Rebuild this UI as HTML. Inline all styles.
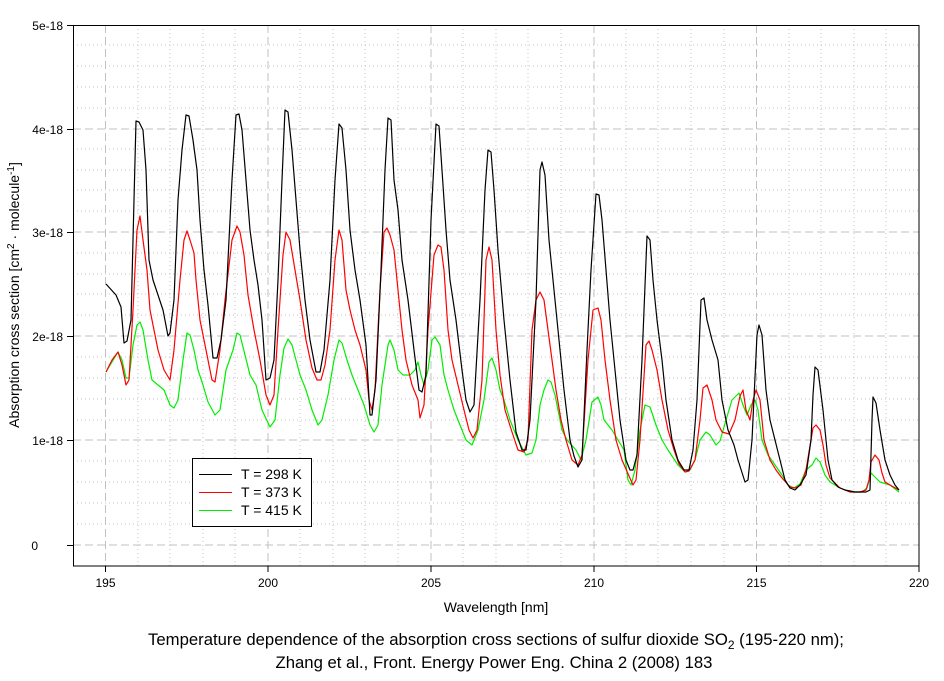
<!DOCTYPE html>
<html><head><meta charset="utf-8"><style>
body{margin:0;background:#fff;}
svg text{font-family:"Liberation Sans",Arial,sans-serif;}
</style></head><body>
<svg width="944" height="676" viewBox="0 0 944 676" xmlns="http://www.w3.org/2000/svg">
<rect width="944" height="676" fill="#fff"/>
<g stroke="#c4c4c4" stroke-width="1" stroke-dasharray="1,3">
<path d="M138 25V566M170 25V566M203 25V566M235 25V566M300 25V566M333 25V566M365 25V566M398 25V566M463 25V566M496 25V566M528 25V566M561 25V566M626 25V566M658 25V566M691 25V566M724 25V566M789 25V566M821 25V566M854 25V566M886 25V566"/>
<path d="M73 524H919M73 503H919M73 482H919M73 461H919M73 420H919M73 399H919M73 378H919M73 357H919M73 315H919M73 294H919M73 274H919M73 253H919M73 211H919M73 190H919M73 170H919M73 149H919M73 108H919M73 87H919M73 66H919M73 45H919"/>
</g>
<g stroke="#c0c0c0" stroke-width="1" stroke-dasharray="8,4">
<path d="M105.5 25V566M268 25V566M431 25V566M594 25V566M756.5 25V566"/>
<path d="M73 545H919M73 440H919M73 336H919M73 232H919M73 129H919"/>
</g>
<rect x="73.5" y="25.5" width="845.5" height="540.5" fill="none" stroke="#000" stroke-width="1"/>
<g stroke="#000"><path d="M67 25.5H73M67 129.5H73M67 232.5H73M67 336.5H73M67 440.5H73M67 545.5H73M105.5 566V572M268 566V572M431 566V572M594 566V572M756.5 566V572M919 566V572"/></g>
<g font-size="12" fill="#000" text-anchor="end">
<text x="63" y="30">5e-18</text><text x="63" y="134">4e-18</text><text x="63" y="237">3e-18</text><text x="63" y="341">2e-18</text><text x="63" y="445">1e-18</text><text x="38" y="550">0</text>
</g>
<g font-size="12" fill="#000" text-anchor="middle">
<text x="105.5" y="587">195</text><text x="268" y="587">200</text><text x="431" y="587">205</text><text x="594" y="587">210</text><text x="756.5" y="587">215</text><text x="919" y="587">220</text>
</g>
<g font-size="14" fill="#000" text-anchor="middle">
<text x="496" y="612">Wavelength [nm]</text>
<text transform="translate(19,295) rotate(-90)">Absorption cross section [cm<tspan dy="-5" font-size="10">2</tspan><tspan dy="5"> · molecule</tspan><tspan dy="-5" font-size="10">-1</tspan><tspan dy="5">]</tspan></text>
</g>
<g font-size="16.7" fill="#000" text-anchor="middle">
<text x="496" y="645">Temperature dependence of the absorption cross sections of sulfur dioxide SO<tspan dy="4" font-size="12">2</tspan><tspan dy="-4"> (195-220 nm);</tspan></text>
<text x="494" y="668">Zhang et al., Front. Energy Power Eng. China 2 (2008) 183</text>
</g>
<g fill="none" stroke-width="1.2" stroke-linejoin="round">
<polyline stroke="#00ee00" points="106,372 112,362 118,352 122,360 126,378 129,378 133,345 137,325 140,322 143,330 148,360 152,380 158,385 164,390 170,405 174,408 178,400 183,360 187,333 190,335 194,350 198,370 203,385 208,402 215,415 220,410 226,370 233,350 237,333 240,335 245,355 250,375 256,385 262,410 270,427 275,420 280,375 284,348 288,339 292,345 296,360 300,375 306,390 312,410 318,425 322,420 328,395 334,360 339,340 342,343 347,360 352,375 358,390 364,405 370,425 374,432 378,425 382,385 388,345 390,340 394,350 398,370 403,375 410,375 415,370 418,362 421,375 424,385 428,370 432,340 435,337 440,345 444,375 448,390 454,410 460,425 466,440 472,445 478,430 484,400 489,362 492,358 496,370 500,390 504,400 510,420 518,440 526,455 532,453 536,440 540,405 544,390 548,380 551,382 555,395 558,410 562,430 567,440 576,450 581,460 586,440 592,402 598,397 601,405 604,420 608,425 612,430 618,440 624,450 628,480 631,485 635,470 640,430 645,405 650,407 656,425 662,440 668,450 678,465 685,472 690,470 695,460 700,440 706,432 710,435 716,445 720,441 726,420 732,400 739,393 743,405 747,415 751,405 755,400 758,410 762,440 768,455 775,465 782,475 788,485 794,488 800,484 806,470 812,465 816,458 820,462 825,475 830,482 840,488 850,492 862,492 867,488 871,473 875,477 880,482 890,485 899,492"/>
<polyline stroke="#ff0000" points="106,372 112,360 118,352 122,365 126,385 129,380 133,310 137,230 140,216 143,240 147,270 150,310 154,330 158,350 164,370 170,380 174,350 180,280 184,240 187,231 190,240 194,253 196,280 200,320 206,350 212,380 215,382 220,350 225,300 232,240 237,226 240,232 244,255 248,295 254,330 260,360 266,395 270,405 274,395 278,330 283,255 286,232 290,240 295,270 300,300 306,340 312,368 317,380 321,380 325,365 330,330 335,260 339,230 342,240 346,290 350,310 355,330 360,345 366,370 369,400 372,410 375,390 380,290 384,232 387,228 390,235 394,250 398,290 402,330 406,360 412,385 418,400 420,418 424,405 428,330 434,255 438,245 441,247 444,270 448,330 452,360 458,385 464,410 469,430 473,438 477,430 482,380 486,260 489,247 492,260 496,330 500,375 505,410 512,432 518,450 524,452 528,440 532,330 536,300 540,292 544,300 548,330 552,360 556,390 561,420 566,440 572,460 578,465 582,455 588,360 593,310 598,308 601,320 605,360 610,400 616,440 622,460 629,476 633,485 636,480 640,440 646,345 649,341 652,350 657,370 662,400 668,430 674,450 679,464 685,472 689,471 695,460 700,420 703,388 707,385 712,400 716,420 722,432 729,434 735,420 740,396 743,390 746,410 750,420 753,400 756,390 760,400 764,440 770,460 776,470 782,478 790,487 795,488 801,485 806,470 811,440 813,428 816,425 820,430 823,445 826,465 830,478 840,488 850,492 860,492 866,490 869,480 871,462 875,455 879,460 882,473 885,482 890,485 899,490"/>
<polyline stroke="#000" points="106,284 116,295 121,307 124,343 127,341 131,320 134,200 136,121 139,122 143,130 146,170 149,260 153,280 158,295 163,310 168,336 170,333 174,300 178,200 182,150 186,115 189,116 193,140 197,170 200,220 204,270 208,305 213,358 217,358 221,340 226,300 232,180 236,115 239,114 242,130 246,180 250,230 254,260 258,285 262,320 266,380 270,378 274,360 278,280 282,180 285,110 288,112 292,150 296,200 300,250 305,300 310,340 316,372 320,372 324,350 330,280 335,180 339,124 342,128 346,170 350,230 355,270 360,300 366,345 370,415 372,415 376,380 381,270 385,170 388,118 391,120 394,180 398,210 402,260 408,300 414,350 419,390 422,392 426,375 431,220 436,124 439,126 442,170 446,230 450,280 456,320 462,370 466,400 470,412 474,405 480,300 485,190 488,150 491,152 494,190 498,250 504,320 510,380 516,432 522,450 526,450 530,420 536,300 540,170 542,162 545,175 549,240 553,280 558,330 564,390 570,440 574,456 578,467 582,460 587,350 591,270 596,194 599,195 602,220 606,270 610,320 615,370 620,420 626,460 630,470 633,470 637,455 642,360 647,236 650,240 653,280 657,320 662,360 666,400 672,440 678,460 684,470 689,470 693,450 697,400 701,300 704,298 707,320 712,340 718,360 722,400 728,430 734,445 738,460 745,482 748,480 752,440 757,335 759,325 762,335 766,390 770,420 775,440 780,460 785,480 790,488 795,490 800,485 806,475 811,440 813,395 815,367 818,370 823,410 828,460 832,480 838,487 845,490 855,492 866,492 870,490 872,420 873,397 876,403 880,430 885,460 890,475 895,485 899,490"/>
</g>
<rect x="192.5" y="458.5" width="119" height="68" fill="#fff" stroke="#000"/>
<path d="M199 474.5H232" stroke="#000"/><path d="M199 492.5H232" stroke="#f00"/><path d="M199 510.5H232" stroke="#0e0"/>
<g font-size="14" fill="#000"><text x="241" y="479">T = 298 K</text><text x="241" y="497">T = 373 K</text><text x="241" y="515">T = 415 K</text></g>
</svg>
</body></html>
